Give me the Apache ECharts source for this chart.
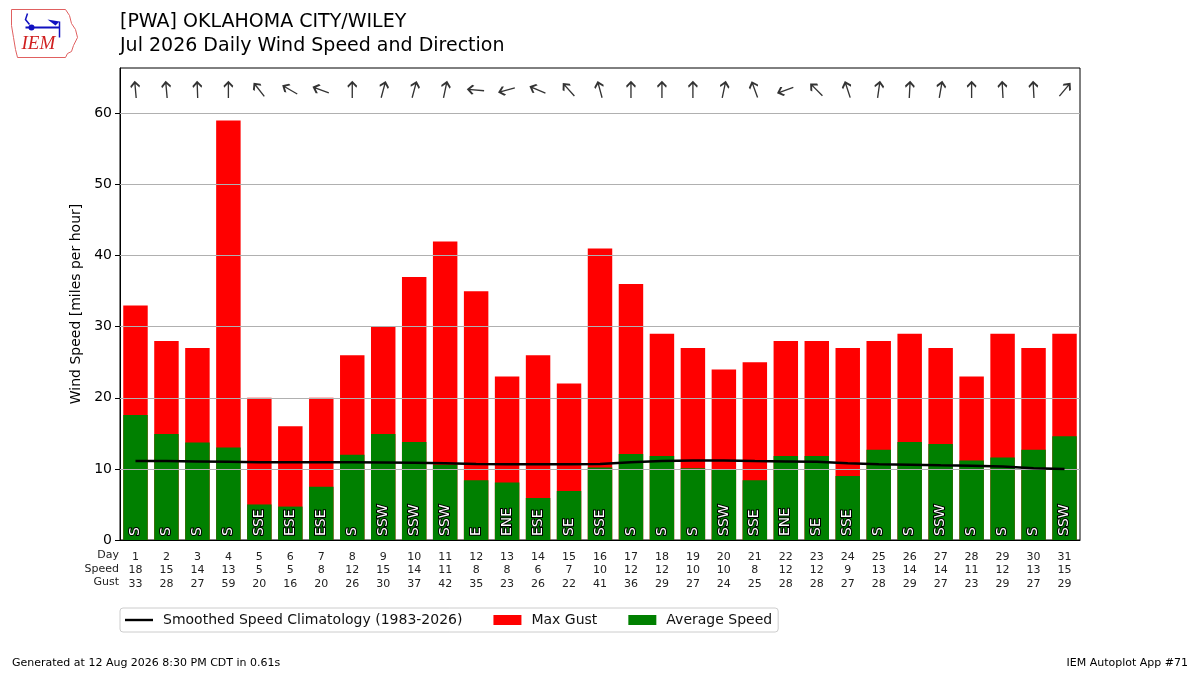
<!DOCTYPE html>
<html>
<head>
<meta charset="utf-8">
<title>Daily Wind Speed and Direction</title>
<script src="https://cdn.jsdelivr.net/npm/echarts@6/dist/echarts.min.js"></script>
<style>
  html, body { margin: 0; padding: 0; background: #fff; }
  #chart { width: 1200px; height: 675px; }
</style>
</head>
<body>
<div id="chart"></div>
<script>
// values
const days = ['1','2','3','4','5','6','7','8','9','10','11','12','13','14','15','16',
              '17','18','19','20','21','22','23','24','25','26','27','28','29','30','31'];
const avgSpeed = [17.6, 14.9, 13.7, 13.0, 5.0, 4.7, 7.5, 12.0, 14.9, 13.8, 10.6, 8.4, 8.1, 5.9, 6.9, 10.2,
                  12.1, 11.8, 10.1, 10.0, 8.4, 11.8, 11.8, 9.0, 12.7, 13.8, 13.5, 11.2, 11.6, 12.7, 14.6];
const maxGust = [33, 28, 27, 59, 20, 16, 20, 26, 30, 37, 42, 35, 23, 26, 22, 41,
                 36, 29, 27, 24, 25, 28, 28, 27, 28, 29, 27, 23, 29, 27, 29];
const climo = [11.1, 11.1, 11.05, 11.0, 10.95, 10.95, 10.95, 10.95, 10.9, 10.85, 10.8, 10.7, 10.65, 10.65, 10.65, 10.7,
               10.95, 11.1, 11.2, 11.2, 11.1, 11.05, 11.0, 10.8, 10.65, 10.6, 10.5, 10.45, 10.35, 10.1, 10.0];
const dirText = ['S','S','S','S','SSE','ESE','ESE','S','SSW','SSW','SSW','E','ENE','ESE','SE','SSE',
                 'S','S','S','SSW','SSE','ENE','SE','SSE','S','S','SSW','S','S','S','SSW'];
// direction the arrow points to, degrees clockwise from north
const arrowDir = [355, 355, 358, 0, 322, 300, 290, 0, 15, 15, 12, 275, 255, 293, 318, 345,
                  0, 0, 0, 12, 340, 250, 315, 342, 8, 3, 10, 0, 357, 357, 40];
const arrowY = 63.3;
const gridLevels = [10, 20, 30, 40, 50, 60];

const FONT = 'DejaVu Sans';
const chart = echarts.init(document.getElementById('chart'), null, {renderer: 'canvas'});

chart.setOption({
    animation: false,
    textStyle: {fontFamily: FONT},
    grid: {
        left: 120, right: 120, top: 68, bottom: 135,
        show: true, borderColor: '#000', borderWidth: 1, backgroundColor: '#fff'
    },
    legend: {
        left: 120, top: 608,
        padding: [5, 6, 5, 5],
        itemGap: 31,
        itemWidth: 28, itemHeight: 10,
        borderColor: '#ccc', borderWidth: 1, borderRadius: 3,
        textStyle: {fontFamily: FONT, fontSize: 14, color: '#111', padding: [0, 0, 0, 5]},
        data: [
            {name: 'Smoothed Speed Climatology (1983-2026)', icon: 'path://M0,3.8 L28,3.8 L28,6.2 L0,6.2 Z'},
            {name: 'Max Gust', icon: 'rect'},
            {name: 'Average Speed', icon: 'rect'}
        ]
    },
    xAxis: {
        type: 'category',
        data: days,
        boundaryGap: true,
        axisLine: {lineStyle: {color: '#000'}},
        axisTick: {alignWithLabel: true, length: 5, lineStyle: {color: '#000'}},
        axisLabel: {
            interval: 0,
            margin: 10,
            fontFamily: FONT, fontSize: 11, color: '#222', lineHeight: 13.5,
            formatter: (v, i) => v + '\n' + Math.round(avgSpeed[i]) + '\n' + maxGust[i]
        }
    },
    yAxis: {
        type: 'value',
        min: 0, max: 66.4, interval: 10,
        name: 'Wind Speed [miles per hour]',
        nameLocation: 'middle',
        nameGap: 34,
        nameTextStyle: {fontFamily: FONT, fontSize: 14, color: '#000'},
        axisLine: {show: true, lineStyle: {color: '#000'}},
        axisTick: {show: true, length: 5, lineStyle: {color: '#000'}},
        axisLabel: {fontFamily: FONT, fontSize: 14, color: '#000', margin: 8,
                    showMaxLabel: false},
        splitLine: {show: false}
    },
    series: [
        {
            name: 'Max Gust',
            type: 'bar',
            data: maxGust,
            barWidth: '79%',
            itemStyle: {color: '#ff0000'},
            z: 2
        },
        {
            name: 'Average Speed',
            type: 'bar',
            data: avgSpeed,
            barWidth: '79%',
            barGap: '-100%',
            itemStyle: {color: '#008000'},
            z: 3,
            label: {
                show: true,
                position: 'insideBottom',
                rotate: 90,
                align: 'left',
                verticalAlign: 'middle',
                distance: 4,
                fontFamily: FONT, fontSize: 14,
                color: '#fff',
                textBorderColor: '#000',
                textBorderWidth: 2,
                formatter: p => dirText[p.dataIndex]
            },
            markLine: {
                silent: true,
                symbol: 'none',
                label: {show: false},
                lineStyle: {color: '#b0b0b0', type: 'solid', width: 1},
                data: gridLevels.map(v => ({yAxis: v})),
                z: 4
            }
        },
        {
            name: 'Smoothed Speed Climatology (1983-2026)',
            type: 'line',
            data: climo,
            symbol: 'none',
            lineStyle: {color: '#000', width: 2.5},
            itemStyle: {color: '#000'},
            z: 6
        },
        {
            name: 'arrows',
            type: 'scatter',
            data: arrowDir.map((d, i) => ({value: [i, arrowY], symbolRotate: -d})),
            symbol: 'path://M5,20 L5,0 M0.5,6 L5,0 L9.5,6',
            symbolSize: [9, 16],
            itemStyle: {color: 'rgba(0,0,0,0)', borderColor: '#000', borderWidth: 1.8},
            silent: true,
            z: 7
        }
    ],
    graphic: [
        // row titles for the table under the axis
        {type: 'text', right: 1081, top: 550, style: {text: 'Day', font: '11px "DejaVu Sans"', fill: '#222', textAlign: 'right'}},
        {type: 'text', right: 1081, top: 563.5, style: {text: 'Speed', font: '11px "DejaVu Sans"', fill: '#222', textAlign: 'right'}},
        {type: 'text', right: 1081, top: 577, style: {text: 'Gust', font: '11px "DejaVu Sans"', fill: '#222', textAlign: 'right'}},
        // titles
        {type: 'text', left: 120, top: 13, style: {text: '[PWA] OKLAHOMA CITY/WILEY', font: '19px "DejaVu Sans"', fill: '#000'}},
        {type: 'text', left: 120, top: 37, style: {text: 'Jul 2026 Daily Wind Speed and Direction', font: '19px "DejaVu Sans"', fill: '#000'}},
        // footer
        {type: 'text', left: 12, top: 658, style: {text: 'Generated at 12 Aug 2026 8:30 PM CDT in 0.61s', font: '11px "DejaVu Sans"', fill: '#000'}},
        {type: 'text', right: 12, top: 658, style: {text: 'IEM Autoplot App #71', font: '11px "DejaVu Sans"', fill: '#000'}},
        // rough IEM logo
        {
            type: 'group', left: 9, top: 7,
            children: [
                {type: 'polyline', shape: {points: [[2,2],[56,2],[60,8],[62,16],[66,22],[68,30],[64,38],[62,44],[58,46],[56,50],[8,50],[6,42],[4,30],[2,18],[2,2]]},
                 style: {stroke: '#e06060', lineWidth: 1, fill: 'none'}},
                {type: 'line', shape: {x1: 16, y1: 20, x2: 50, y2: 20}, style: {stroke: '#1010c0', lineWidth: 2}},
                {type: 'circle', shape: {cx: 22, cy: 20, r: 3}, style: {fill: '#1010c0'}},
                {type: 'polyline', shape: {points: [[20,17],[16,12],[18,6]]}, style: {stroke: '#1010c0', lineWidth: 1.5, fill: 'none'}},
                {type: 'polygon', shape: {points: [[38,12],[50,14],[46,18]]}, style: {fill: '#1010c0'}},
                {type: 'line', shape: {x1: 50, y1: 14, x2: 50, y2: 30}, style: {stroke: '#1010c0', lineWidth: 1.5}},
                {type: 'text', left: 12, top: 27, style: {text: 'IEM', font: 'italic 19px "Liberation Serif"', fill: '#d02020'}}
            ]
        }
    ]
});
</script>
</body>
</html>
